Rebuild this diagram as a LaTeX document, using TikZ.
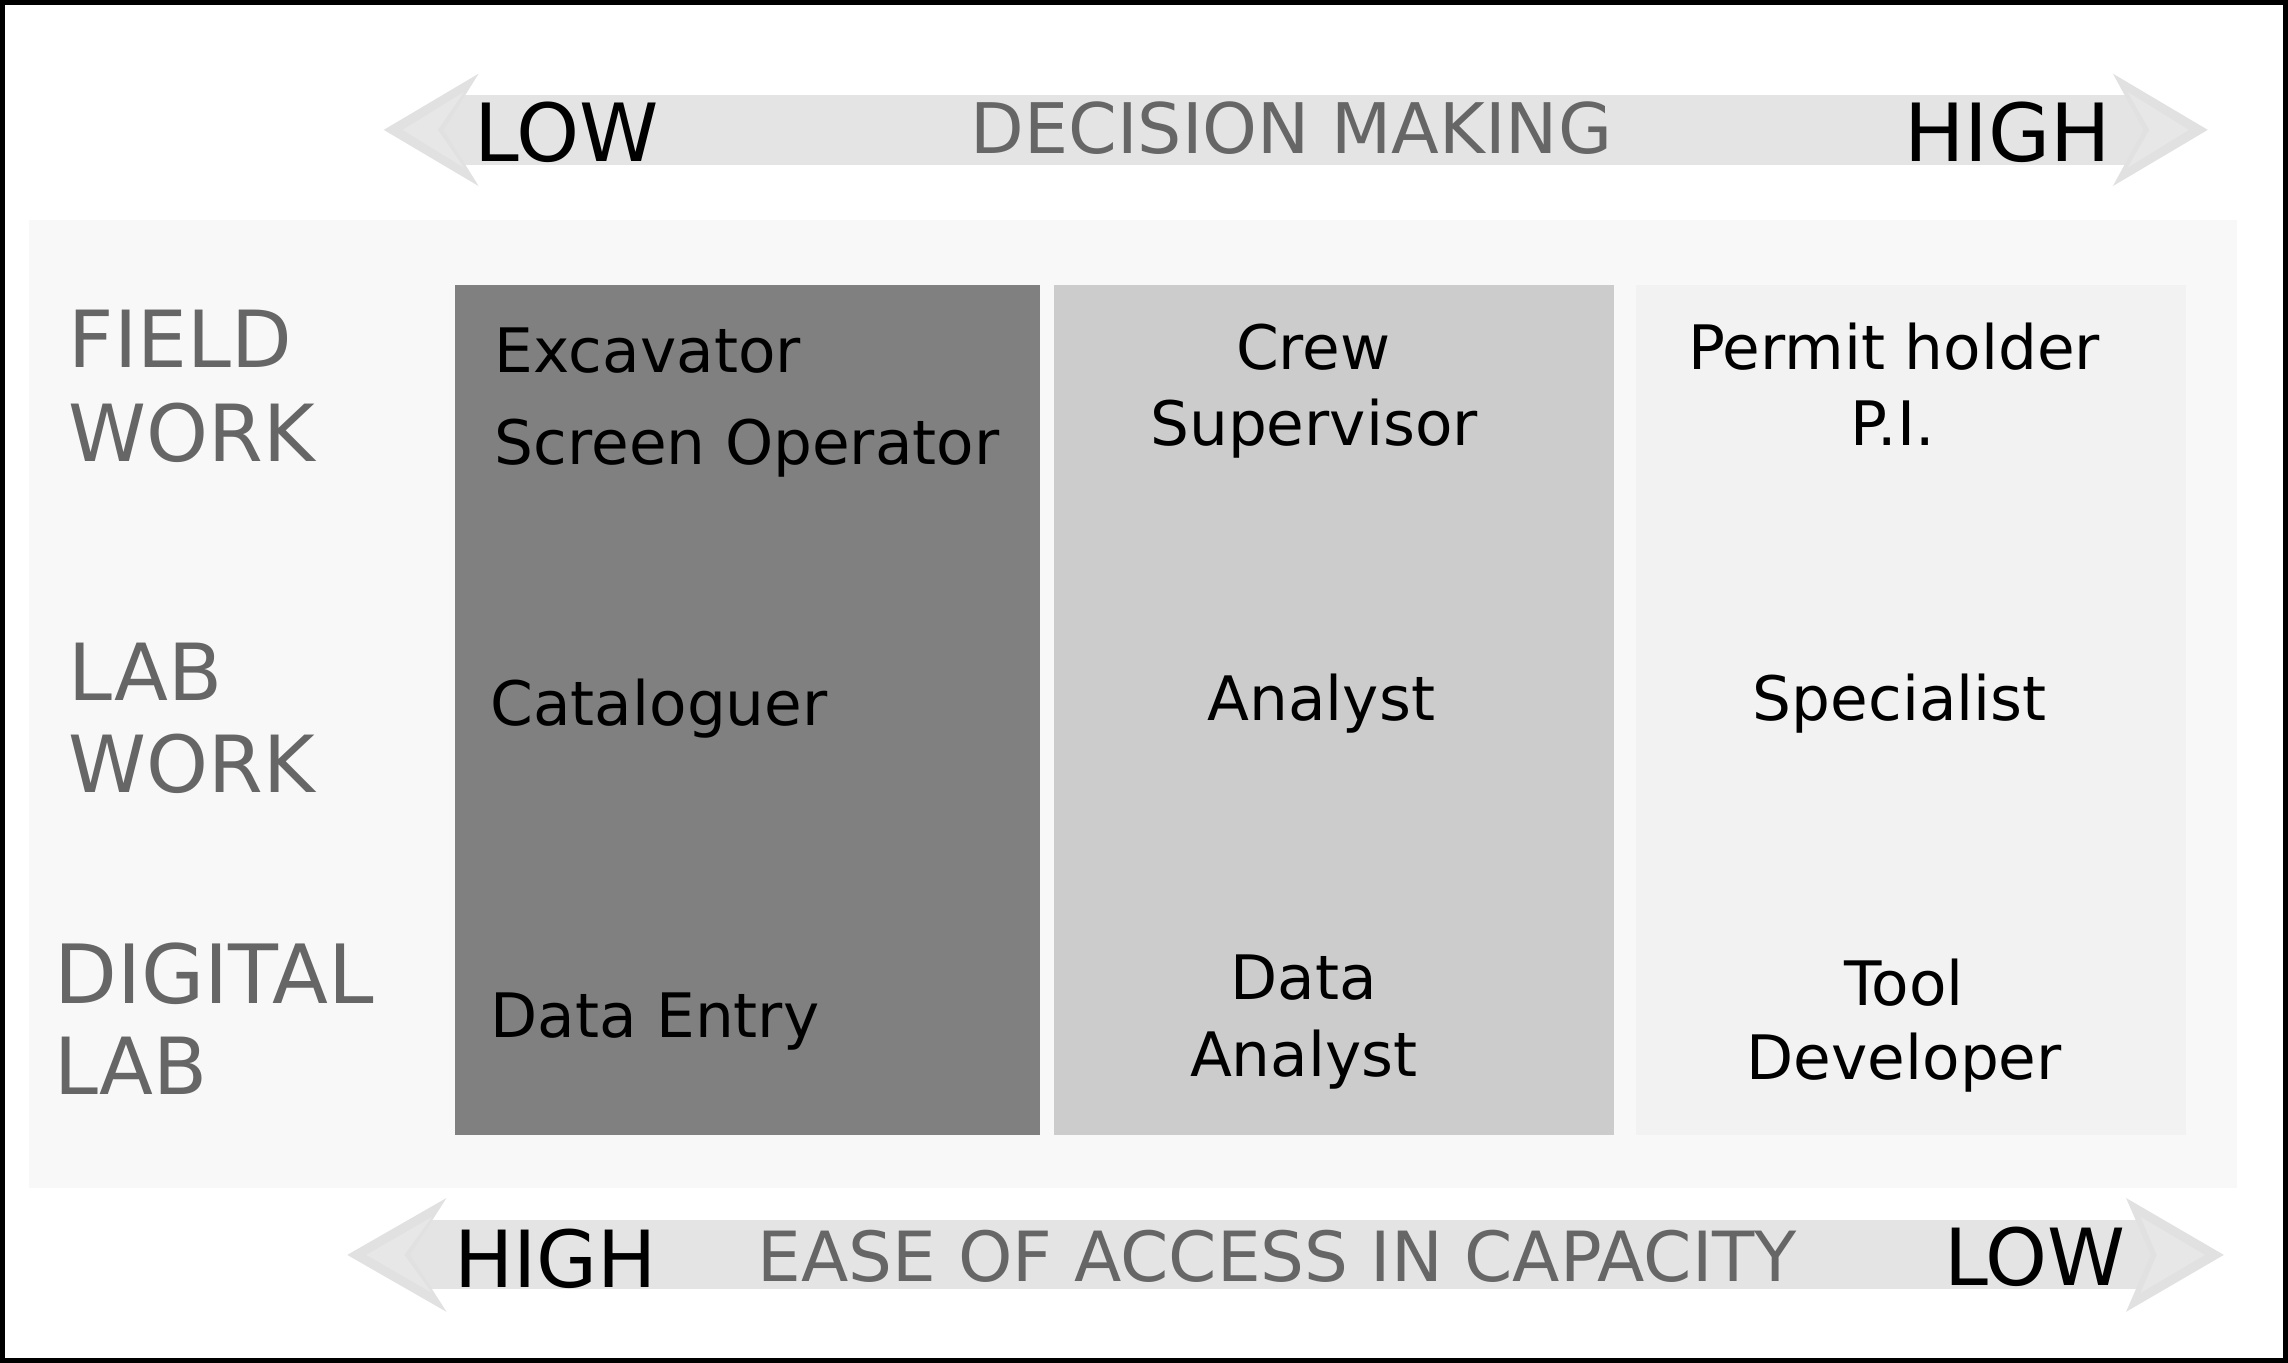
\documentclass[tikz,border=0pt]{standalone}
\usepackage{fontspec}
\setmainfont{DejaVu Sans}
\definecolor{shaftgray}{HTML}{E4E4E4}
\definecolor{headgray}{HTML}{E1E1E1}
\definecolor{headinner}{HTML}{E7E7E7}
\definecolor{panelgray}{HTML}{F8F8F8}
\definecolor{darkcol}{HTML}{808080}
\definecolor{midcol}{HTML}{CCCCCC}
\definecolor{lightcol}{HTML}{F2F2F2}
\definecolor{labelgray}{HTML}{666666}
\tikzset{
  rowlabel/.style={inner sep=0pt, anchor=base west, text=labelgray, font=\fontsize{54}{64}\selectfont},
  celltext/.style={inner sep=0pt, anchor=base, text=black, font=\fontsize{42}{50}\selectfont},
  celltextleft/.style={celltext, anchor=base west},
  endlabel/.style={inner sep=0pt, anchor=base west, text=black, font=\fontsize{55}{64}\selectfont},
  axistitle/.style={inner sep=0pt, anchor=base west, text=labelgray, font=\fontsize{47.8}{56}\selectfont},
}
\begin{document}
\begin{tikzpicture}[x=1pt,y=-1pt]
\useasboundingbox (0,0) rectangle (1568,934);
\fill[white] (0,0) rectangle (1568,934);

% top arrow: DECISION MAKING
\fill[shaftgray] (304,65) rectangle (1469,113);
\fill[headgray] (263,89) -- (328,50.5) -- (304,89) -- (328,127.5) -- cycle;
\fill[headinner] (276,89) -- (318,63) -- (300,89) -- (318,115) -- cycle;
\fill[headgray] (1513,89) -- (1448,50.5) -- (1469,89) -- (1448,127.5) -- cycle;
\fill[headinner] (1500,89) -- (1458,63) -- (1473,89) -- (1458,115) -- cycle;
\node[endlabel] (tlow) at (325,111) {LOW};
\node[axistitle] (tdec) at (665,105) {DECISION MAKING};
\node[endlabel, anchor=base east] (thigh) at (1447,111) {HIGH};

% background panel
\fill[panelgray] (20,151) rectangle (1533,814);

% columns
\fill[darkcol] (312,195.5) rectangle (713,778);
\fill[midcol] (722,195.5) rectangle (1106,778);
\fill[lightcol] (1121,195.5) rectangle (1498,778);

% row labels
\node[rowlabel] (rf1) at (47,252) {FIELD};
\node[rowlabel] (rf2) at (47,316) {WORK};
\node[rowlabel] (rl1) at (47,480) {LAB};
\node[rowlabel] (rl2) at (47,543) {WORK};
\node[rowlabel, font=\fontsize{56}{64}\selectfont] (rd1) at (37,688) {DIGITAL};
\node[rowlabel] (rd2) at (37,750) {LAB};

% dark column texts
\node[celltextleft] (exc) at (339,255.5) {Excavator};
\node[celltextleft] (scr) at (339,318.5) {Screen Operator};
\node[celltextleft] (cat) at (336,497) {Cataloguer};
\node[celltextleft] (dent) at (336,711) {Data Entry};

% middle column texts
\node[celltext] (crew) at (900,253) {Crew};
\node[celltext] (sup) at (900.5,305) {Supervisor};
\node[celltext] (ana) at (905.5,493.5) {Analyst};
\node[celltext] (data) at (893.5,685) {Data};
\node[celltext] (dana) at (893.5,737.5) {Analyst};

% right column texts
\node[celltext] (perm) at (1298,253) {Permit holder};
\node[celltext] (pi) at (1297,305) {P.I.};
\node[celltext] (spec) at (1302,493.5) {Specialist};
\node[celltext] (tool) at (1305,689) {Tool};
\node[celltext] (dev) at (1305,740) {Developer};

% bottom arrow: EASE OF ACCESS IN CAPACITY
\fill[shaftgray] (281,836) rectangle (1474,883.5);
\fill[headgray] (238,860) -- (306,821) -- (281,860) -- (306,899) -- cycle;
\fill[headinner] (251,860) -- (296,834) -- (277,860) -- (296,886) -- cycle;
\fill[headgray] (1524,860) -- (1457,821) -- (1474,860) -- (1457,899) -- cycle;
\fill[headinner] (1511,860) -- (1467,834) -- (1478,860) -- (1467,886) -- cycle;
\node[endlabel, font=\fontsize{54}{64}\selectfont] (bhigh) at (311,882) {HIGH};
\node[axistitle, font=\fontsize{47.4}{56}\selectfont] (bease) at (519,878) {EASE OF ACCESS IN CAPACITY};
\node[endlabel, font=\fontsize{54}{64}\selectfont, anchor=base east] (blow) at (1457,881) {LOW};

% outer frame
\draw[black, line width=3.5pt] (1.75,1.75) rectangle (1566.25,932.25);
\end{tikzpicture}
\end{document}
